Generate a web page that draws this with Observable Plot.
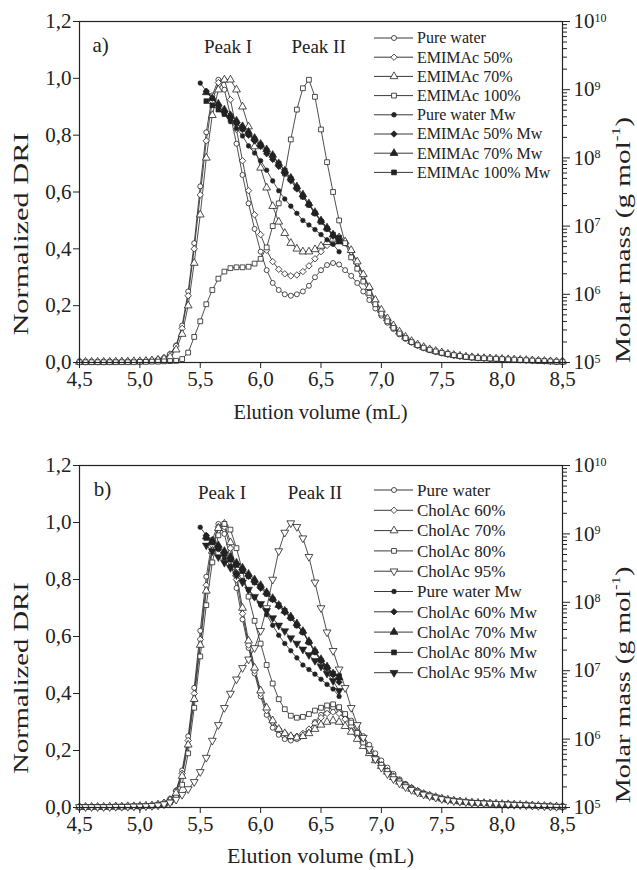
<!DOCTYPE html>
<html><head><meta charset="utf-8">
<script src="https://cdn.jsdelivr.net/npm/d3@7"></script>
<script src="https://cdn.jsdelivr.net/npm/@observablehq/plot@0.6"></script>
<style>
body{margin:0;background:#fff;}
.panel{position:relative;width:637px;}
.panel svg{position:absolute;left:0;top:0;}
</style></head><body>
<div id="pa" class="panel" style="height:440px"></div>
<div id="pb" class="panel" style="height:430px"></div>
<script>
// ---------- data ----------
const volume = [4.50,4.55,4.60,4.65,4.70,4.75,4.80,4.85,4.90,4.95,5.00,5.05,5.10,5.15,5.20,5.25,5.30,5.35,5.40,5.45,5.50,5.55,5.60,5.65,5.70,5.75,5.80,5.85,5.90,5.95,6.00,6.05,6.10,6.15,6.20,6.25,6.30,6.35,6.40,6.45,6.50,6.55,6.60,6.65,6.70,6.75,6.80,6.85,6.90,6.95,7.00,7.05,7.10,7.15,7.20,7.25,7.30,7.35,7.40,7.45,7.50,7.55,7.60,7.65,7.70,7.75,7.80,7.85,7.90,7.95,8.00,8.05,8.10,8.15,8.20,8.25,8.30,8.35,8.40,8.45,8.50];

const pureWater = [0.002,0.002,0.002,0.002,0.002,0.003,0.003,0.003,0.004,0.004,
 0.005,0.006,0.008,0.011,0.016,0.03,0.06,0.13,0.25,0.42,
 0.62,0.81,0.94,0.995,0.96,0.87,0.77,0.66,0.56,0.47,
 0.39,0.325,0.28,0.255,0.24,0.235,0.24,0.25,0.27,0.30,
 0.325,0.343,0.35,0.345,0.325,0.305,0.28,0.25,0.22,0.19,
 0.165,0.14,0.118,0.099,0.083,0.07,0.059,0.05,0.043,0.037,
 0.032,0.028,0.024,0.021,0.019,0.017,0.015,0.014,0.013,0.012,
 0.011,0.01,0.009,0.008,0.007,0.007,0.006,0.005,0.004,0.003,0.002];

const emimac50 = [0.002,0.002,0.002,0.002,0.002,0.003,0.003,0.003,0.004,0.004,
 0.005,0.006,0.008,0.011,0.016,0.03,0.058,0.12,0.235,0.40,
 0.59,0.78,0.92,0.985,0.995,0.925,0.82,0.71,0.605,0.52,
 0.45,0.395,0.355,0.328,0.312,0.305,0.308,0.32,0.34,0.365,
 0.39,0.412,0.428,0.435,0.42,0.39,0.35,0.305,0.26,0.215,
 0.18,0.15,0.125,0.104,0.087,0.073,0.061,0.052,0.045,0.039,
 0.034,0.029,0.025,0.022,0.02,0.018,0.016,0.015,0.014,0.013,
 0.012,0.011,0.01,0.009,0.008,0.007,0.006,0.005,0.004,0.003,0.003];

const emimac70 = [0.002,0.002,0.002,0.002,0.002,0.002,0.003,0.003,0.003,0.004,
 0.004,0.005,0.007,0.009,0.013,0.02,0.045,0.1,0.2,0.35,
 0.52,0.72,0.87,0.96,0.995,0.995,0.96,0.9,0.83,0.76,
 0.685,0.615,0.55,0.495,0.455,0.42,0.40,0.39,0.39,0.398,
 0.41,0.423,0.435,0.44,0.425,0.395,0.355,0.31,0.265,0.22,
 0.185,0.155,0.13,0.108,0.09,0.075,0.063,0.054,0.046,0.04,
 0.035,0.03,0.026,0.023,0.02,0.018,0.016,0.015,0.014,0.013,
 0.012,0.011,0.01,0.009,0.008,0.007,0.006,0.005,0.004,0.003,0.003];

const emimac100 = [0.001,0.001,0.001,0.001,0.001,0.001,0.001,0.001,0.001,0.001,
 0.002,0.002,0.003,0.003,0.004,0.005,0.006,0.012,0.035,0.09,
 0.145,0.205,0.255,0.295,0.32,0.332,0.335,0.335,0.337,0.348,
 0.365,0.405,0.48,0.56,0.665,0.785,0.89,0.965,0.995,0.935,
 0.82,0.705,0.60,0.50,0.42,0.37,0.33,0.285,0.245,0.205,
 0.172,0.145,0.122,0.102,0.086,0.072,0.061,0.052,0.045,0.039,
 0.034,0.03,0.026,0.023,0.02,0.018,0.016,0.015,0.014,0.013,
 0.012,0.011,0.01,0.009,0.008,0.007,0.006,0.005,0.004,0.003,0.003];

const cholac60 = [0.002,0.002,0.002,0.002,0.002,0.003,0.003,0.003,0.004,0.004,
 0.005,0.006,0.008,0.011,0.016,0.03,0.058,0.12,0.235,0.40,
 0.59,0.78,0.92,0.985,0.985,0.91,0.80,0.68,0.57,0.48,
 0.40,0.34,0.30,0.275,0.26,0.25,0.25,0.26,0.275,0.295,
 0.315,0.33,0.335,0.33,0.31,0.285,0.255,0.225,0.195,0.17,
 0.148,0.126,0.107,0.09,0.076,0.065,0.055,0.047,0.041,0.036,
 0.031,0.027,0.024,0.021,0.019,0.017,0.016,0.015,0.014,0.013,
 0.012,0.011,0.01,0.009,0.008,0.007,0.006,0.005,0.004,0.003,0.003];

const cholac70 = [0.002,0.002,0.002,0.002,0.002,0.003,0.003,0.003,0.004,0.004,
 0.005,0.006,0.007,0.01,0.014,0.025,0.05,0.11,0.22,0.38,
 0.57,0.76,0.90,0.98,0.995,0.93,0.82,0.70,0.585,0.49,
 0.41,0.35,0.305,0.275,0.26,0.25,0.245,0.25,0.26,0.275,
 0.29,0.30,0.305,0.30,0.285,0.265,0.24,0.215,0.19,0.165,
 0.145,0.125,0.106,0.09,0.076,0.065,0.055,0.047,0.041,0.036,
 0.031,0.027,0.024,0.021,0.019,0.017,0.016,0.015,0.014,0.013,
 0.012,0.011,0.01,0.009,0.008,0.007,0.006,0.005,0.004,0.003,0.003];

const cholac80 = [0.002,0.002,0.002,0.002,0.002,0.002,0.003,0.003,0.003,0.004,
 0.004,0.005,0.006,0.008,0.011,0.018,0.035,0.08,0.19,0.35,
 0.53,0.71,0.86,0.955,0.995,0.975,0.91,0.83,0.74,0.655,
 0.575,0.50,0.435,0.38,0.345,0.322,0.315,0.318,0.328,0.34,
 0.35,0.358,0.362,0.352,0.328,0.298,0.262,0.228,0.198,0.172,
 0.15,0.128,0.109,0.092,0.078,0.066,0.056,0.048,0.042,0.036,
 0.031,0.027,0.024,0.021,0.019,0.017,0.016,0.015,0.014,0.013,
 0.012,0.011,0.01,0.009,0.008,0.007,0.006,0.005,0.004,0.003,0.003];

const cholac95 = [0.002,0.002,0.002,0.002,0.002,0.002,0.003,0.003,0.003,0.004,
 0.004,0.005,0.006,0.008,0.012,0.018,0.028,0.045,0.065,0.09,
 0.125,0.175,0.235,0.29,0.35,0.40,0.45,0.49,0.52,0.56,
 0.62,0.70,0.80,0.90,0.965,0.998,0.985,0.945,0.88,0.79,
 0.70,0.615,0.55,0.485,0.42,0.35,0.29,0.245,0.205,0.17,
 0.14,0.118,0.1,0.085,0.072,0.062,0.053,0.046,0.04,0.035,
 0.03,0.026,0.023,0.021,0.019,0.017,0.016,0.015,0.014,0.013,
 0.012,0.011,0.01,0.009,0.008,0.007,0.006,0.005,0.004,0.003,0.003];

// molar mass Mw (g/mol) on the right log axis
const mwVolume = [5.50,5.55,5.60,5.65,5.70,5.75,5.80,5.85,5.90,5.95,6.00,6.05,6.10,6.15,6.20,6.25,6.30,6.35,6.40,6.45,6.50,6.55,6.60,6.65];
const pureWaterMw = [1.25e9,9.5e8,7.5e8,5.9e8,4.4e8,3.4e8,2.7e8,2.1e8,1.5e8,1.18e8,9.1e7,6.6e7,4.6e7,3.3e7,2.5e7,1.96e7,1.54e7,1.21e7,1.04e7,8.9e6,7.5e6,6.3e6,5.4e6,4.2e6];
const emimac50Mw = [null,9.5e8,7.5e8,5.9e8,4.6e8,3.8e8,3.2e8,2.6e8,2.15e8,1.78e8,1.47e8,1.15e8,9.5e7,7.5e7,5.9e7,4.6e7,3.5e7,2.7e7,2.05e7,1.54e7,1.21e7,9.1e6,7.1e6,6.2e6];
const emimac70Mw = [null,9.1e8,7.5e8,6.2e8,5.1e8,4.2e8,3.5e8,2.9e8,2.4e8,1.96e8,1.6e8,1.33e8,1.1e8,8.3e7,6.5e7,5.1e7,3.8e7,2.9e7,2.15e7,1.6e7,1.21e7,9.5e6,7.5e6,5.9e6];
const emimac100Mw = [null,6.8e8,5.9e8,5.1e8,4.4e8,3.8e8,3.3e8,2.7e8,2.26e8,1.87e8,1.54e8,1.27e8,1.05e8,8.3e7,6.5e7,4.9e7,3.65e7,2.7e7,2.05e7,1.54e7,1.15e7,9.1e6,7.5e6,6.8e6];
const cholac60Mw = [null,9.5e8,7.9e8,6.5e8,5.4e8,4.4e8,3.65e8,2.9e8,2.4e8,1.96e8,1.6e8,1.33e8,1.1e8,8.7e7,7.1e7,5.9e7,4.6e7,3.65e7,2.6e7,1.87e7,1.4e7,1.1e7,8.7e6,6.8e6];
const cholac70Mw = [null,9.1e8,7.9e8,6.8e8,5.6e8,4.6e8,3.8e8,3.2e8,2.6e8,2.15e8,1.78e8,1.4e8,1.15e8,9.1e7,7.5e7,6.2e7,4.9e7,3.8e7,2.7e7,1.96e7,1.47e7,1.15e7,9.1e6,7.9e6];
const cholac80Mw = [null,8.7e8,7.5e8,6.2e8,5.1e8,4.2e8,3.5e8,2.9e8,2.4e8,1.96e8,1.7e8,1.33e8,1.1e8,9.1e7,7.5e7,5.9e7,4.6e7,3.65e7,2.6e7,1.87e7,1.4e7,1.1e7,9.1e6,8.3e6];
const cholac95Mw = [null,6.8e8,5.6e8,4.6e8,3.8e8,3.2e8,2.5e8,1.96e8,1.54e8,1.21e8,9.5e7,7.5e7,5.9e7,4.6e7,3.8e7,3.0e7,2.5e7,2.05e7,1.7e7,1.4e7,1.15e7,9.1e6,7.1e6,5.1e6];

const xTicks = [4.5,5.0,5.5,6.0,6.5,7.0,7.5,8.0,8.5];
const yTicks = [0,0.2,0.4,0.6,0.8,1.0,1.2];
const mwTicks = [1e5,1e6,1e7,1e8,1e9,1e10];
const peakNames = ["Peak I","Peak II"];

// ---------- helpers ----------
const W = 637, ML = 79, MR = 75;
const INK = "#222";
const FONT = "'Liberation Serif','Times New Roman',serif";
const comma = d => d.toFixed(1).replace(".", ",");
const pow10 = d => "10^" + Math.round(Math.log10(d));
const mwMinor = mwTicks.slice(0, -1).flatMap(t => [2,3,4,5,6,7,8,9].map(k => k * t));
const rows = (xs, ys) => xs.map((x, i) => ({x, y: ys[i]})).filter(d => d.y != null);
const triangleDown = {
  draw(context, size) {
    const s3 = Math.sqrt(3);
    const y = -Math.sqrt(size / (s3 * 3));
    context.moveTo(0, -y * 2);
    context.lineTo(-s3 * y, y);
    context.lineTo(s3 * y, y);
    context.closePath();
  }
};
const SYM = {circle: d3.symbolCircle, diamond2: d3.symbolDiamond2, triangle: d3.symbolTriangle, square: d3.symbolSquare, down: triangleDown};
const plotSym = s => s === "down" ? triangleDown : s;

function drawPanel(cfg) {
  const root = document.querySelector(cfg.el);
  const common = {width: W, height: cfg.H, marginLeft: ML, marginRight: MR, marginTop: cfg.MT, marginBottom: cfg.MB};
  const style = {fontFamily: FONT, fontSize: "21px", color: INK, background: "transparent", overflow: "visible"};

  const dri = Plot.plot({
    ...common, style,
    x: {domain: [4.5, 8.5]},
    y: {domain: [0, 1.2]},
    marks: [
      ...cfg.dri.map(s => Plot.line(rows(volume, s.values), {x: "x", y: "y", stroke: INK, strokeWidth: 0.8})),
      ...cfg.dri.map(s => Plot.dot(rows(volume, s.values), {x: "x", y: "y", symbol: plotSym(s.symbol), r: s.r, fill: "white", stroke: INK, strokeWidth: 0.8})),
      Plot.frame({stroke: INK, strokeWidth: 1.2}),
      Plot.axisX({ticks: xTicks, tickFormat: comma, tickSize: 6, tickPadding: 3, label: null}),
      Plot.axisY({ticks: yTicks, tickFormat: comma, tickSize: 6, tickPadding: 2, label: null}),
      Plot.text([cfg.tag], {x: cfg.tagX, y: cfg.tagY, text: d => d, fontSize: 21}),
      Plot.text(peakNames, {x: (d, i) => cfg.peakX[i], y: cfg.peakY, text: d => d, fontSize: 19})
    ]
  });
  root.appendChild(dri);

  const mw = Plot.plot({
    ...common, style,
    x: {domain: [4.5, 8.5], axis: null},
    y: {type: "log", domain: [1e5, 1e10]},
    marks: [
      Plot.axisY({anchor: "right", ticks: mwMinor, tickSize: 4, tickFormat: () => "", label: null}),
      Plot.axisY({anchor: "right", ticks: mwTicks, tickSize: 7, tickPadding: 4, tickFormat: pow10, label: null}),
      ...cfg.mw.map(s => Plot.line(rows(mwVolume, s.values), {x: "x", y: "y", stroke: INK, strokeWidth: 0.8})),
      ...cfg.mw.map(s => Plot.dot(rows(mwVolume, s.values), {x: "x", y: "y", symbol: plotSym(s.symbol), r: s.r, fill: INK, stroke: INK, strokeWidth: 0.6}))
    ]
  });
  // typeset the powers of ten with a raised exponent
  d3.select(mw).selectAll("text").each(function () {
    const m = this.textContent.match(/^10\^(\d+)$/);
    if (m) {
      this.textContent = "10";
      d3.select(this).append("tspan").attr("dy", "-0.55em").attr("font-size", "12px").text(m[1]);
    }
  });
  root.appendChild(mw);

  // legend and axis titles
  const svg = d3.create("svg").attr("width", W).attr("height", cfg.H)
    .attr("font-family", FONT).attr("fill", INK);
  const entries = [
    ...cfg.dri.map(s => ({name: s.name, symbol: s.symbol, r: s.r, filled: false})),
    ...cfg.mw.map(s => ({name: s.name, symbol: s.symbol, r: s.r, filled: true}))
  ];
  entries.forEach((e, i) => {
    const y = cfg.legTop + i * cfg.legStep;
    svg.append("line").attr("x1", 374).attr("x2", 413).attr("y1", y).attr("y2", y)
      .attr("stroke", INK).attr("stroke-width", 0.9);
    svg.append("path").attr("transform", `translate(394,${y})`)
      .attr("d", d3.symbol(SYM[e.symbol], Math.PI * e.r * e.r)())
      .attr("fill", e.filled ? INK : "white").attr("stroke", INK).attr("stroke-width", 0.8);
    svg.append("text").attr("x", 417).attr("y", y).attr("dy", "0.34em")
      .attr("font-size", cfg.legFont).text(e.name);
  });
  svg.append("text").attr("x", 320.5).attr("y", cfg.xTitleY).attr("text-anchor", "middle")
    .attr("font-size", cfg.xTitleSize).text("Elution volume (mL)");
  svg.append("text").attr("text-anchor", "middle").attr("font-size", 22)
    .attr("transform", `translate(28,${cfg.leftTitleY}) rotate(-90) scale(${cfg.leftStretch},1)`)
    .text("Normalized DRI");
  const rt = svg.append("text").attr("text-anchor", "middle").attr("font-size", 22)
    .attr("transform", `translate(630,${cfg.rightTitleY}) rotate(-90) scale(${cfg.rightStretch},1)`);
  rt.append("tspan").text("Molar mass (g mol");
  rt.append("tspan").attr("font-size", 13).attr("dy", "-0.75em").text("-1");
  rt.append("tspan").attr("dy", "0.45em").text(")");
  root.appendChild(svg.node());
}

drawPanel({
  el: "#pa", H: 440, MT: 21, MB: 78,
  dri: [
    {name: "Pure water", values: pureWater, symbol: "circle", r: 2.5},
    {name: "EMIMAc 50%", values: emimac50, symbol: "diamond2", r: 2.9},
    {name: "EMIMAc 70%", values: emimac70, symbol: "triangle", r: 2.9},
    {name: "EMIMAc 100%", values: emimac100, symbol: "square", r: 2.7}
  ],
  mw: [
    {name: "Pure water Mw", values: pureWaterMw, symbol: "circle", r: 2.3},
    {name: "EMIMAc 50% Mw", values: emimac50Mw, symbol: "diamond2", r: 2.9},
    {name: "EMIMAc 70% Mw", values: emimac70Mw, symbol: "triangle", r: 2.9},
    {name: "EMIMAc 100% Mw", values: emimac100Mw, symbol: "square", r: 2.7}
  ],
  tag: "a)", tagX: 4.675, tagY: 1.115,
  peakX: [5.73, 6.48], peakY: 1.112,
  legTop: 38, legStep: 19.2, legFont: 16,
  xTitleY: 419, xTitleSize: 20.5,
  leftTitleY: 234, leftStretch: 1.38,
  rightTitleY: 240, rightStretch: 1.33
});

drawPanel({
  el: "#pb", H: 430, MT: 25, MB: 63,
  dri: [
    {name: "Pure water", values: pureWater, symbol: "circle", r: 2.5},
    {name: "CholAc 60%", values: cholac60, symbol: "diamond2", r: 2.9},
    {name: "CholAc 70%", values: cholac70, symbol: "triangle", r: 2.9},
    {name: "CholAc 80%", values: cholac80, symbol: "square", r: 2.7},
    {name: "CholAc 95%", values: cholac95, symbol: "down", r: 2.9}
  ],
  mw: [
    {name: "Pure water Mw", values: pureWaterMw, symbol: "circle", r: 2.3},
    {name: "CholAc 60% Mw", values: cholac60Mw, symbol: "diamond2", r: 2.9},
    {name: "CholAc 70% Mw", values: cholac70Mw, symbol: "triangle", r: 2.9},
    {name: "CholAc 80% Mw", values: cholac80Mw, symbol: "square", r: 2.7},
    {name: "CholAc 95% Mw", values: cholac95Mw, symbol: "down", r: 2.9}
  ],
  tag: "b)", tagX: 4.69, tagY: 1.117,
  peakX: [5.68, 6.45], peakY: 1.105,
  legTop: 50, legStep: 20.3, legFont: 17,
  xTitleY: 423, xTitleSize: 22,
  leftTitleY: 238, leftStretch: 1.3,
  rightTitleY: 245, rightStretch: 1.28
});
</script>
</body></html>
